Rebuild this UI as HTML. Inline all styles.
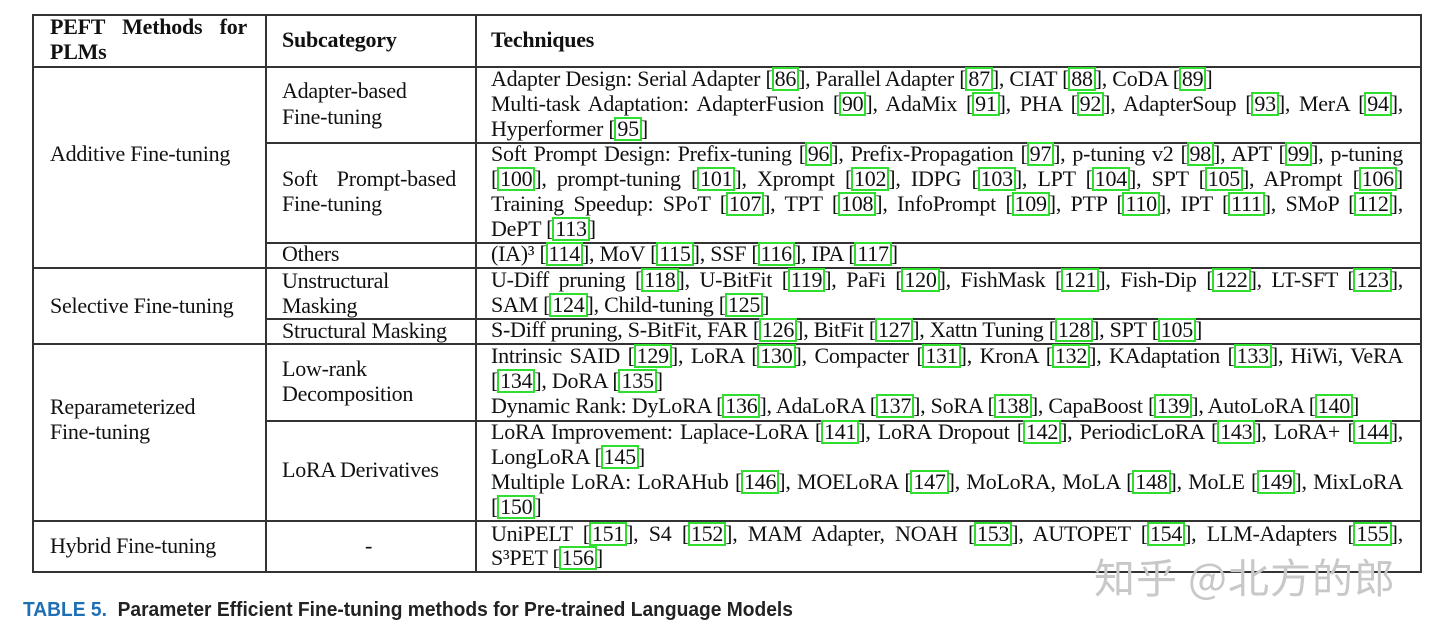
<!DOCTYPE html>
<html><head><meta charset="utf-8"><style>
body{margin:0;width:1440px;height:634px;background:#fff;position:relative;overflow:hidden;font-family:"Liberation Serif",serif;color:#111}
.h{position:absolute;height:1.5px;background:#333}
.v{position:absolute;width:1.5px;background:#333}
.t{position:absolute;font-size:22px;line-height:25px;height:25px;white-space:nowrap;letter-spacing:-0.25px}
.j{white-space:normal;text-align:justify;text-align-last:justify;overflow:visible}
.w{left:491px;width:912px}
.c{display:inline-block;border:2px solid #2fdf2f;line-height:20px;padding:0 1px;margin:0 -1px}
b{font-weight:bold}
</style></head><body>
<div class="h" style="left:32px;width:1390px;top:14px"></div>
<div class="h" style="left:32px;width:1390px;top:66px"></div>
<div class="h" style="left:265px;width:1157px;top:142px"></div>
<div class="h" style="left:265px;width:1157px;top:242px"></div>
<div class="h" style="left:32px;width:1390px;top:267px"></div>
<div class="h" style="left:265px;width:1157px;top:318px"></div>
<div class="h" style="left:32px;width:1390px;top:343px"></div>
<div class="h" style="left:265px;width:1157px;top:420px"></div>
<div class="h" style="left:32px;width:1390px;top:520px"></div>
<div class="h" style="left:32px;width:1390px;top:571px"></div>
<div class="v" style="left:32px;top:14px;height:558px"></div>
<div class="v" style="left:265px;top:14px;height:558px"></div>
<div class="v" style="left:475px;top:14px;height:558px"></div>
<div class="v" style="left:1420px;top:14px;height:558px"></div>

<div class="t j" style="left:50px;width:197px;top:14px"><b>PEFT Methods for</b></div>
<div class="t" style="left:50px;top:39px"><b>PLMs</b></div>
<div class="t" style="left:282px;top:27px"><b>Subcategory</b></div>
<div class="t" style="left:491px;top:27px"><b>Techniques</b></div>

<div class="t" style="left:50px;top:141px">Additive Fine-tuning</div>
<div class="t" style="left:50px;top:293px">Selective Fine-tuning</div>
<div class="t" style="left:50px;top:394px">Reparameterized</div>
<div class="t" style="left:50px;top:419px">Fine-tuning</div>
<div class="t" style="left:50px;top:533px">Hybrid Fine-tuning</div>

<div class="t" style="left:282px;top:78px">Adapter-based</div>
<div class="t" style="left:282px;top:104px">Fine-tuning</div>
<div class="t j" style="left:282px;width:174px;top:166px">Soft Prompt-based</div>
<div class="t" style="left:282px;top:191px">Fine-tuning</div>
<div class="t" style="left:282px;top:241px">Others</div>
<div class="t" style="left:282px;top:268px">Unstructural</div>
<div class="t" style="left:282px;top:293px">Masking</div>
<div class="t" style="left:282px;top:318px">Structural Masking</div>
<div class="t" style="left:282px;top:356px">Low-rank</div>
<div class="t" style="left:282px;top:381px">Decomposition</div>
<div class="t" style="left:282px;top:457px">LoRA Derivatives</div>
<div class="t" style="left:365px;top:533px">-</div>

<div class="t w" style="top:66px">Adapter Design: Serial Adapter [<span class="c">86</span>], Parallel Adapter [<span class="c">87</span>], CIAT [<span class="c">88</span>], CoDA [<span class="c">89</span>]</div>
<div class="t w j" style="top:91px">Multi-task Adaptation: AdapterFusion [<span class="c">90</span>], AdaMix [<span class="c">91</span>], PHA [<span class="c">92</span>], AdapterSoup [<span class="c">93</span>], MerA [<span class="c">94</span>],</div>
<div class="t w" style="top:116px">Hyperformer [<span class="c">95</span>]</div>
<div class="t w j" style="top:141px">Soft Prompt Design: Prefix-tuning [<span class="c">96</span>], Prefix-Propagation [<span class="c">97</span>], p-tuning v2 [<span class="c">98</span>], APT [<span class="c">99</span>], p-tuning</div>
<div class="t w j" style="top:166px">[<span class="c">100</span>], prompt-tuning [<span class="c">101</span>], Xprompt [<span class="c">102</span>], IDPG [<span class="c">103</span>], LPT [<span class="c">104</span>], SPT [<span class="c">105</span>], APrompt [<span class="c">106</span>]</div>
<div class="t w j" style="top:191px">Training Speedup: SPoT [<span class="c">107</span>], TPT [<span class="c">108</span>], InfoPrompt [<span class="c">109</span>], PTP [<span class="c">110</span>], IPT [<span class="c">111</span>], SMoP [<span class="c">112</span>],</div>
<div class="t w" style="top:216px">DePT [<span class="c">113</span>]</div>
<div class="t w" style="top:241px">(IA)³ [<span class="c">114</span>], MoV [<span class="c">115</span>], SSF [<span class="c">116</span>], IPA [<span class="c">117</span>]</div>
<div class="t w j" style="top:267px">U-Diff pruning [<span class="c">118</span>], U-BitFit [<span class="c">119</span>], PaFi [<span class="c">120</span>], FishMask [<span class="c">121</span>], Fish-Dip [<span class="c">122</span>], LT-SFT [<span class="c">123</span>],</div>
<div class="t w" style="top:292px">SAM [<span class="c">124</span>], Child-tuning [<span class="c">125</span>]</div>
<div class="t w" style="top:317px">S-Diff pruning, S-BitFit, FAR [<span class="c">126</span>], BitFit [<span class="c">127</span>], Xattn Tuning [<span class="c">128</span>], SPT [<span class="c">105</span>]</div>
<div class="t w j" style="top:343px">Intrinsic SAID [<span class="c">129</span>], LoRA [<span class="c">130</span>], Compacter [<span class="c">131</span>], KronA [<span class="c">132</span>], KAdaptation [<span class="c">133</span>], HiWi, VeRA</div>
<div class="t w" style="top:368px">[<span class="c">134</span>], DoRA [<span class="c">135</span>]</div>
<div class="t w" style="top:393px">Dynamic Rank: DyLoRA [<span class="c">136</span>], AdaLoRA [<span class="c">137</span>], SoRA [<span class="c">138</span>], CapaBoost [<span class="c">139</span>], AutoLoRA [<span class="c">140</span>]</div>
<div class="t w j" style="top:419px">LoRA Improvement: Laplace-LoRA [<span class="c">141</span>], LoRA Dropout [<span class="c">142</span>], PeriodicLoRA [<span class="c">143</span>], LoRA+ [<span class="c">144</span>],</div>
<div class="t w" style="top:444px">LongLoRA [<span class="c">145</span>]</div>
<div class="t w j" style="top:469px">Multiple LoRA: LoRAHub [<span class="c">146</span>], MOELoRA [<span class="c">147</span>], MoLoRA, MoLA [<span class="c">148</span>], MoLE [<span class="c">149</span>], MixLoRA</div>
<div class="t w" style="top:494px">[<span class="c">150</span>]</div>
<div class="t w j" style="top:521px">UniPELT [<span class="c">151</span>], S4 [<span class="c">152</span>], MAM Adapter, NOAH [<span class="c">153</span>], AUTOPET [<span class="c">154</span>], LLM-Adapters [<span class="c">155</span>],</div>
<div class="t w" style="top:545px">S³PET [<span class="c">156</span>]</div>

<div style="position:absolute;left:1094px;top:549px;font-family:'Noto Sans CJK SC',sans-serif;font-size:41px;line-height:52px;color:#c8c8c8;white-space:nowrap;letter-spacing:1px">知乎 @北方的郎</div>

<div style="position:absolute;left:23px;top:597px;font-family:'Liberation Sans',sans-serif;font-weight:bold;font-size:20px;line-height:26px;white-space:nowrap;color:#222;transform:scaleX(0.96);transform-origin:left"><span style="color:#1f6fb4">TABLE 5.</span>&nbsp; Parameter Efficient Fine-tuning methods for Pre-trained Language Models</div>
</body></html>
